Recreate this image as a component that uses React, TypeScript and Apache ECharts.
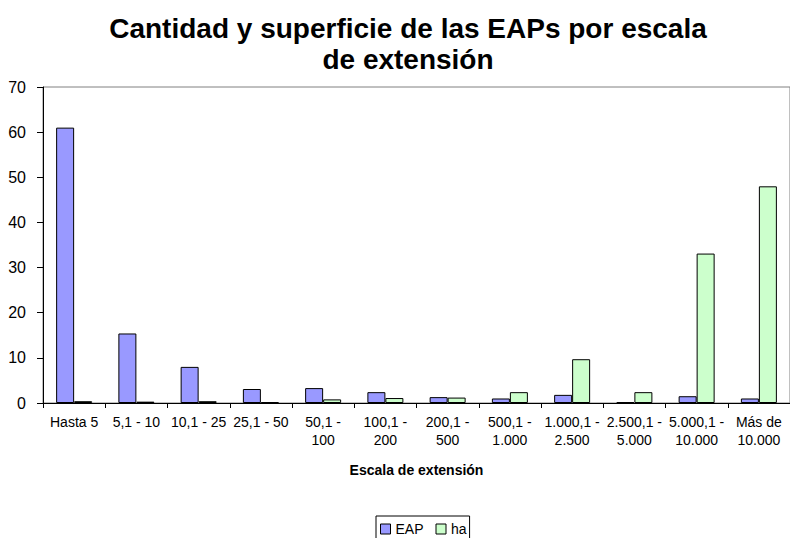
import React, { useEffect, useRef } from "react";
import * as echarts from "echarts";

const categories = [
  "Hasta 5",
  "5,1 - 10",
  "10,1 - 25",
  "25,1 - 50",
  "50,1 -\n100",
  "100,1 -\n200",
  "200,1 -\n500",
  "500,1 -\n1.000",
  "1.000,1 -\n2.500",
  "2.500,1 -\n5.000",
  "5.000,1 -\n10.000",
  "Más de\n10.000",
];
const eapValues = [61, 15.4, 8, 3.1, 3.3, 2.4, 1.3, 1.0, 1.8, 0.2, 1.5, 1.0];
const haValues = [0.4, 0.3, 0.4, 0.2, 0.8, 1.1, 1.2, 2.4, 9.7, 2.4, 33.1, 48];
const yTicks = { min: 0, max: 70, interval: 10 };

const FONT = "Liberation Sans, Arial, sans-serif";

export default function App() {
  const ref = useRef<HTMLDivElement>(null);
  useEffect(() => {
    if (!ref.current) return;
    const chart = echarts.init(ref.current, undefined, { renderer: "svg" });
    chart.setOption({
      animation: false,
      backgroundColor: "#ffffff",
      textStyle: { fontFamily: FONT },
      title: {
        text: "Cantidad y superficie de las EAPs por escala\nde extensión",
        left: 408,
        top: 13,
        padding: 0,
        textAlign: "center",
        textStyle: {
          fontFamily: FONT,
          fontSize: 28,
          fontWeight: "bold",
          lineHeight: 31,
          color: "#000",
        },
      },
      legend: {
        data: ["EAP", "ha"],
        left: 376,
        top: 516,
        padding: [6, 3, 6, 4],
        itemGap: 12,
        itemWidth: 10,
        itemHeight: 10,
        borderColor: "#000",
        borderWidth: 1,
        borderRadius: 0,
        icon: "rect",
        itemStyle: { borderColor: "#000", borderWidth: 1 },
        textStyle: { fontFamily: FONT, fontSize: 14, color: "#000" },
      },
      grid: {
        left: 43,
        right: -1,
        top: 87,
        bottom: 135,
        show: true,
        borderColor: "#808080",
        borderWidth: 1,
        containLabel: false,
      },
      xAxis: {
        type: "category",
        data: categories,
        name: "Escala de extensión",
        nameLocation: "middle",
        nameGap: 60,
        nameTextStyle: { fontFamily: FONT, fontSize: 14, fontWeight: "bold", color: "#000" },
        axisLine: { lineStyle: { color: "#000", width: 1 } },
        axisTick: { show: true, length: 5, lineStyle: { color: "#000" } },
        axisLabel: {
          interval: 0,
          margin: 10,
          fontFamily: FONT,
          fontSize: 14,
          lineHeight: 18,
          color: "#000",
        },
        splitLine: { show: false },
      },
      yAxis: {
        type: "value",
        min: yTicks.min,
        max: yTicks.max,
        interval: yTicks.interval,
        axisLine: { show: true, lineStyle: { color: "#000", width: 1 } },
        axisTick: { show: true, length: 6, lineStyle: { color: "#000" } },
        axisLabel: { margin: 17, fontFamily: FONT, fontSize: 16, color: "#000" },
        splitLine: { show: false },
      },
      series: [
        {
          name: "EAP",
          type: "bar",
          data: eapValues,
          barWidth: 18,
          barGap: "0%",
          itemStyle: { color: "#9999FF", borderColor: "#000", borderWidth: 1 },
        },
        {
          name: "ha",
          type: "bar",
          data: haValues,
          barWidth: 18,
          barGap: "0%",
          itemStyle: { color: "#CCFFCC", borderColor: "#000", borderWidth: 1 },
        },
      ],
    });
    return () => chart.dispose();
  }, []);
  return <div ref={ref} style={{ width: 790, height: 538, position: "fixed", left: 0, top: 0 }} />;
}
